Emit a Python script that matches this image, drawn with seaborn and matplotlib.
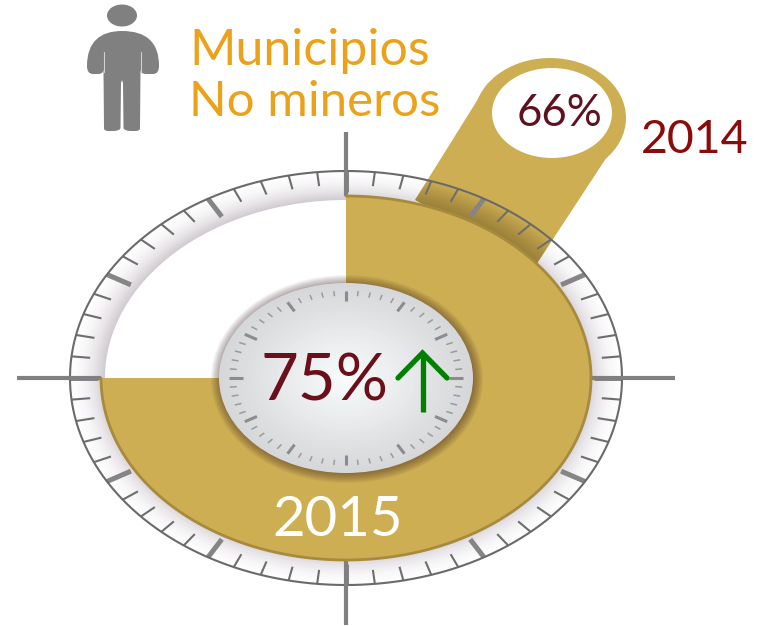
import matplotlib
matplotlib.use("Agg")
import matplotlib.pyplot as plt
import seaborn as sns
import numpy as np
from matplotlib.patches import Ellipse, Polygon, PathPatch
from matplotlib.path import Path


# Data
group_lines = ["Municipios", "No mineros"]
years = ["2014", "2015"]
share_2014 = 66
share_2015 = [75, 25]

# Style
gold = "#cdae52"
gold_edge = "#a88a3c"
label_gold = "#eba21a"
wine = "#6b0f1a"
wine_2014 = "#8b0a0a"
grey = "#808080"

sns.set_theme(style="white")
plt.rcParams["font.family"] = ["Lato", "DejaVu Sans"]

W, H = 763, 626
cx, cy = 346, 378
ring_rx, ring_ry = 276, 207
pie_rx, pie_ry = 245, 182
dial_rx, dial_ry = 127, 95

fig = plt.figure(figsize=(W / 100, H / 100), dpi=100, facecolor="white")


def pixel_axes(zorder):
    a = fig.add_axes([0, 0, 1, 1], zorder=zorder)
    a.set_xlim(0, W)
    a.set_ylim(H, 0)
    a.axis("off")
    a.patch.set_alpha(0)
    return a


def oval(a, rx, ry, color, x=cx, y=cy, **kw):
    e = Ellipse((x, y), 2 * rx, 2 * ry, facecolor=color, edgecolor="none", **kw)
    a.add_patch(e)
    return e


def radial_ticks(a, rx, ry, outer, minor, major, c_minor, c_major, lw_minor, lw_major):
    for i in range(60):
        t = np.radians(i * 6)
        is_major = i % 5 == 0
        inner = major if is_major else minor
        a.plot([cx + rx * outer * np.cos(t), cx + rx * inner * np.cos(t)],
               [cy + ry * outer * np.sin(t), cy + ry * inner * np.sin(t)],
               color=c_major if is_major else c_minor,
               lw=lw_major if is_major else lw_minor,
               solid_capstyle="butt", zorder=5)


ax = pixel_axes(1)

# Ring shading, white at the rim and grey towards the centre
steps = 30
ring_colors = sns.color_palette("blend:#ffffff,#f8f7f8,#e8e5e8,#cfc9cf", steps)
for i, col in enumerate(ring_colors):
    f = 1 - i / (steps - 1)
    oval(ax, 241 + (ring_rx - 241) * f, 178 + (ring_ry - 178) * f, col, zorder=1)
oval(ax, 241, 178, "white", zorder=1.5)

# Callout behind the gauge ticks
callout = Polygon([(415, 200), (488, 83), (620, 137), (536, 265)],
                  closed=True, facecolor=gold, edgecolor="none", zorder=2)
ax.add_patch(callout)
oval(ax, 76, 60, gold, x=550, y=118, zorder=2)
for i in range(16):
    f = 1 - i / 15
    shade = oval(ax, 241 + (ring_rx - 241) * f, 178 + (ring_ry - 178) * f, "black",
                 alpha=0.018, zorder=2.5)
    shade.set_clip_path(callout)
oval(ax, 60, 45, "white", x=552, y=113, zorder=3)

# Gauge ticks and rim
radial_ticks(ax, ring_rx, ring_ry, 1.0, 0.932, 0.9, "#6e6e6e", "#858585", 1.5, 3.6)
t = np.linspace(0, 2 * np.pi, 400)
ax.plot(cx + ring_rx * np.cos(t), cy + ring_ry * np.sin(t), color="#6a6a6a", lw=1.5, zorder=6)

# Crosshair
for xs, ys in [([17, 101], [cy, cy]), ([592, 675], [cy, cy]),
               ([cx, cx], [132, 196]), ([cx, cx], [560, 625])]:
    ax.plot(xs, ys, color=grey, lw=3, solid_capstyle="butt", zorder=7)

# Share of 2015 as a pie stretched to an oval
pie_ax = fig.add_axes([(cx - pie_rx) / W, 1 - (cy + pie_ry) / H, 2 * pie_rx / W, 2 * pie_ry / H], zorder=2)
pie_ax.pie(share_2015, colors=[gold, "none"], startangle=90, counterclock=False,
           radius=1, wedgeprops={"linewidth": 0})
pie_ax.set_aspect("auto")
pie_ax.set_xlim(-1, 1)
pie_ax.set_ylim(-1, 1)
pie_ax.patch.set_alpha(0)

top = pixel_axes(3)

# Darker rim on the filled arc
t = np.radians(np.linspace(-90, -90 + 360 * share_2015[0] / sum(share_2015), 300))
top.plot(cx + pie_rx * np.cos(t), cy + pie_ry * np.sin(t), color=gold_edge, lw=2, zorder=1)

# Dial shadow
for i in range(10):
    f = 1 - i / 9
    oval(top, dial_rx + 9 * f, dial_ry + 9 * f, "#3a2020", x=cx + 1, y=cy + 1, alpha=0.05, zorder=2)

# Dial face
face = sns.color_palette("blend:#d6d7d9,#dfe0e2,#e8eaec,#f0f3f4,#fafdfd", 40)
for i, col in enumerate(face):
    f = 1 - i / 39
    oval(top, dial_rx * f, dial_ry * f, col, zorder=3)
radial_ticks(top, dial_rx, dial_ry, 0.92, 0.865, 0.81, "#9a9a9a", "#8c8c8c", 1.1, 2.2)

# Person icon
oval(top, 15, 11, grey, x=122, y=15.5, zorder=4)
verts = [(122, 31), (100, 31), (87, 42), (87, 66), (87, 74), (93, 74), (98, 74),
         (103, 74), (103.5, 70), (104, 128), (104, 131), (108, 131), (113, 131),
         (120, 131), (120.5, 128), (121, 83), (122, 80), (123, 83), (123.5, 128),
         (124, 131), (131, 131), (136, 131), (140, 131), (140, 128), (140.5, 70),
         (141, 74), (146, 74), (153, 74), (159, 74), (159, 66),
         (159, 42), (146, 31), (122, 31)]
codes = [Path.MOVETO, Path.CURVE4, Path.CURVE4, Path.CURVE4, Path.CURVE3, Path.CURVE3,
         Path.LINETO, Path.CURVE3, Path.CURVE3, Path.LINETO, Path.CURVE3, Path.CURVE3,
         Path.LINETO, Path.CURVE3, Path.CURVE3, Path.LINETO, Path.LINETO, Path.LINETO,
         Path.LINETO, Path.CURVE3, Path.CURVE3, Path.LINETO, Path.CURVE3, Path.CURVE3,
         Path.LINETO, Path.CURVE3, Path.CURVE3, Path.LINETO, Path.CURVE3, Path.CURVE3,
         Path.CURVE4, Path.CURVE4, Path.CURVE4]
top.add_patch(PathPatch(Path(verts, codes), facecolor=grey, edgecolor="none", zorder=4))
top.plot([103.5, 103.5], [52, 72], color="#d0d0d0", lw=0.8, zorder=5)
top.plot([140.5, 140.5], [52, 72], color="#d0d0d0", lw=0.8, zorder=5)

# Up arrow
top.plot([422.5, 422.5], [356, 412], color="#008000", lw=3.8, solid_capstyle="butt", zorder=6)
top.plot([398, 422.5, 447], [378, 353, 378], color="#008000", lw=3.8,
         solid_joinstyle="miter", solid_capstyle="round", zorder=6)

# Text
top.text(189, 51, group_lines[0], fontsize=36, color=label_gold, ha="left", va="center", zorder=8)
top.text(189, 102, group_lines[1], fontsize=35.5, color=label_gold, ha="left", va="center", zorder=8)
top.text(559.5, 114, f"{share_2014}%", fontsize=31.5, color="#5e1220", ha="center", va="center", zorder=8)
top.text(694.5, 140, years[0], fontsize=33.5, color=wine_2014, ha="center", va="center", zorder=8)
top.text(324, 382, f"{share_2015[0]}%", fontsize=47, color=wine, ha="center", va="center", zorder=8)
top.text(337.5, 520, years[1], fontsize=40.5, color="white", ha="center", va="center", zorder=8)

fig.savefig("out.png", dpi=100, facecolor="white")
